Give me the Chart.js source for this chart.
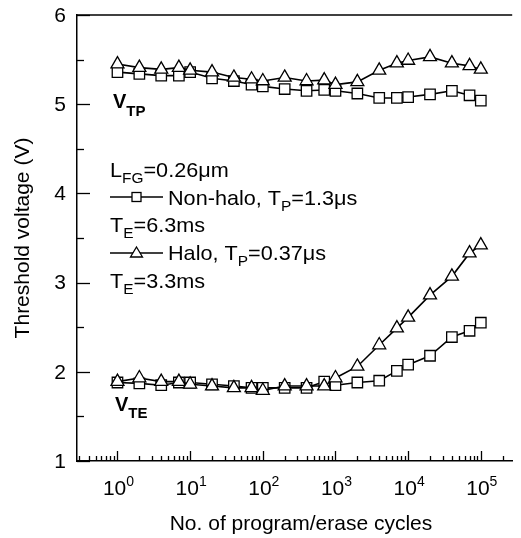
<!DOCTYPE html>
<html><head><meta charset="utf-8">
<script src="https://cdn.jsdelivr.net/npm/chart.js@4/dist/chart.umd.min.js"></script>
<style>html,body{margin:0;padding:0;background:#fff;overflow:hidden}#wrap{width:521px;height:538px;position:relative}</style>
</head><body><div id="wrap"><canvas id="c" width="521" height="538"></canvas></div>
<script>
// ---- data ----
const cycles = [1,2,4,7,10,20,40,70,100,200,400,700,1000,2000,4000,7000,10000,20000,40000,70000,100000];
const vtpNonHalo = [5.36,5.34,5.32,5.32,5.36,5.29,5.26,5.22,5.20,5.17,5.15,5.16,5.15,5.12,5.07,5.07,5.08,5.11,5.15,5.10,5.04];
const vtpHalo    = [5.45,5.41,5.39,5.41,5.38,5.36,5.30,5.28,5.26,5.30,5.26,5.27,5.22,5.25,5.38,5.46,5.49,5.53,5.46,5.43,5.39];
const vteNonHalo = [1.88,1.87,1.85,1.88,1.88,1.86,1.84,1.82,1.82,1.82,1.82,1.89,1.85,1.88,1.90,2.01,2.08,2.18,2.39,2.46,2.55];
const vteHalo    = [1.89,1.93,1.89,1.89,1.86,1.84,1.82,1.82,1.79,1.84,1.84,1.84,1.93,2.06,2.30,2.49,2.61,2.86,3.07,3.33,3.42];
const xTickExponents = [0,1,2,3,4,5];
const yTickValues = [1,2,3,4,5,6];
const xTitle = 'No. of program/erase cycles';
const yTitle = 'Threshold voltage (V)';

const FONT = '"Liberation Sans", Arial, sans-serif';
const pts = (ys) => cycles.map((c,i)=>({x:c,y:ys[i]}));
const common = {borderColor:'#000',borderWidth:1.6,backgroundColor:'#fff',pointBackgroundColor:'#fff',pointBorderColor:'#000',pointBorderWidth:1.3,tension:0,fill:false};

function txt(ctx, segs, x, y, sx){
  ctx.save(); ctx.translate(x,y); ctx.scale(sx||1,1);
  let cx=0;
  for(const s of segs){
    ctx.font=(s.bold?'bold ':'')+s.size+'px '+FONT;
    ctx.fillStyle='#000'; ctx.textBaseline='alphabetic'; ctx.textAlign='left';
    ctx.fillText(s.t,cx,s.dy||0);
    cx+=ctx.measureText(s.t).width;
  }
  ctx.restore();
  return cx*(sx||1);
}
function txtWidth(ctx, segs){
  let w=0; for(const s of segs){ctx.font=(s.bold?'bold ':'')+s.size+'px '+FONT; w+=ctx.measureText(s.t).width;} return w;
}

const deco = {
  id:'deco',
  afterDraw(chart){
    const ctx=chart.ctx, xs=chart.scales.x, ys=chart.scales.y, a=chart.chartArea;
    ctx.save();
    ctx.strokeStyle='#000'; ctx.lineWidth=1.5;
    // top border
    ctx.beginPath(); ctx.moveTo(a.left,a.top); ctx.lineTo(a.right,a.top); ctx.stroke();
    // y ticks (inward)
    ctx.lineWidth=1.3;
    for(let v=ys.min; v<=ys.max+1e-9; v+=0.5){
      const p=Math.round(ys.getPixelForValue(v))+0.5;
      const major=Math.abs(v-Math.round(v))<1e-6;
      ctx.beginPath(); ctx.moveTo(a.left,p); ctx.lineTo(a.left+(major?13:7),p); ctx.stroke();
    }
    // x ticks (inward)
    for(let e=-1;e<=5;e++){
      for(let m=1;m<=9;m++){
        const v=m*Math.pow(10,e);
        if(v<xs.min||v>xs.max) continue;
        const p=Math.round(xs.getPixelForValue(v))+0.5;
        ctx.beginPath(); ctx.moveTo(p,a.bottom); ctx.lineTo(p,a.bottom-(m===1?10:5)); ctx.stroke();
      }
    }
    // y tick labels
    ctx.fillStyle='#000'; ctx.font='21px '+FONT; ctx.textAlign='right'; ctx.textBaseline='middle';
    for(const v of yTickValues){ ctx.fillText(String(v), 66, ys.getPixelForValue(v)+1); }
    // x tick labels 10^n
    for(const e of xTickExponents){
      const segs=[{t:'10',size:21},{t:String(e),size:14,dy:-9}];
      const w=txtWidth(ctx,segs);
      txt(ctx,segs,xs.getPixelForValue(Math.pow(10,e))-w/2+1,495);
    }
    // axis titles
    ctx.font='21px '+FONT; ctx.textAlign='center'; ctx.textBaseline='alphabetic';
    ctx.fillText(xTitle,301,530);
    ctx.save(); ctx.translate(29,238); ctx.rotate(-Math.PI/2); ctx.fillText(yTitle,0,0); ctx.restore();
    // curve labels
    txt(ctx,[{t:'V',size:20,bold:true},{t:'TP',size:15,bold:true,dy:8}],113,108);
    txt(ctx,[{t:'V',size:20,bold:true},{t:'TE',size:15,bold:true,dy:7}],115,411);
    // legend block
    const LX=110, SX=1.03;
    txt(ctx,[{t:'L',size:21},{t:'FG',size:15,dy:6},{t:'=0.26\u03bcm',size:21}],LX,177,SX);
    // non-halo line + square
    ctx.lineWidth=1.3; ctx.strokeStyle='#000';
    let ly=197;
    ctx.beginPath(); ctx.moveTo(LX,ly); ctx.lineTo(163,ly); ctx.stroke();
    ctx.fillStyle='#fff'; ctx.fillRect(132,ly-4.5,9,9); ctx.strokeRect(132,ly-4.5,9,9);
    ctx.fillStyle='#000';
    txt(ctx,[{t:'Non-halo, T',size:21},{t:'P',size:15,dy:6},{t:'=1.3\u03bcs',size:21}],168,204.5,SX);
    txt(ctx,[{t:'T',size:21},{t:'E',size:15,dy:6},{t:'=6.3ms',size:21}],LX,232,SX);
    ly=253;
    ctx.beginPath(); ctx.moveTo(LX,ly); ctx.lineTo(163,ly); ctx.stroke();
    ctx.beginPath(); ctx.moveTo(136.5,ly-6); ctx.lineTo(142.5,ly+4); ctx.lineTo(130.5,ly+4); ctx.closePath();
    ctx.fillStyle='#fff'; ctx.fill(); ctx.stroke();
    ctx.fillStyle='#000';
    txt(ctx,[{t:'Halo, T',size:21},{t:'P',size:15,dy:6},{t:'=0.37\u03bcs',size:21}],168,260,SX);
    txt(ctx,[{t:'T',size:21},{t:'E',size:15,dy:6},{t:'=3.3ms',size:21}],LX,288,SX);
    ctx.restore();
  }
};

const xMin = Math.pow(10,-0.557), xMax = Math.pow(10,5.432);
new Chart(document.getElementById('c'),{
  type:'line',
  data:{datasets:[
    {...common,label:'Halo VTP',data:pts(vtpHalo),pointStyle:'triangle',pointRadius:7.5,order:1},
    {...common,label:'Halo VTE',data:pts(vteHalo),pointStyle:'triangle',pointRadius:7.5,order:1},
    {...common,label:'Non-halo VTP',data:pts(vtpNonHalo),pointStyle:'rect',pointRadius:7.4,order:2},
    {...common,label:'Non-halo VTE',data:pts(vteNonHalo),pointStyle:'rect',pointRadius:7.4,order:2}
  ]},
  options:{
    responsive:false, animation:false, devicePixelRatio:1,
    layout:{padding:{left:77,top:15,right:0,bottom:77}},
    plugins:{legend:{display:false},tooltip:{enabled:false}},
    scales:{
      x:{type:'logarithmic',min:xMin,max:xMax,ticks:{display:false},grid:{display:false,drawTicks:false},border:{display:true,color:'#000',width:1.5},afterFit:s=>{s.height=0;}},
      y:{type:'linear',min:1,max:6,ticks:{display:false},grid:{display:false,drawTicks:false},border:{display:true,color:'#000',width:1.5},afterFit:s=>{s.width=0;}}
    }
  },
  plugins:[deco]
});
</script></body></html>
